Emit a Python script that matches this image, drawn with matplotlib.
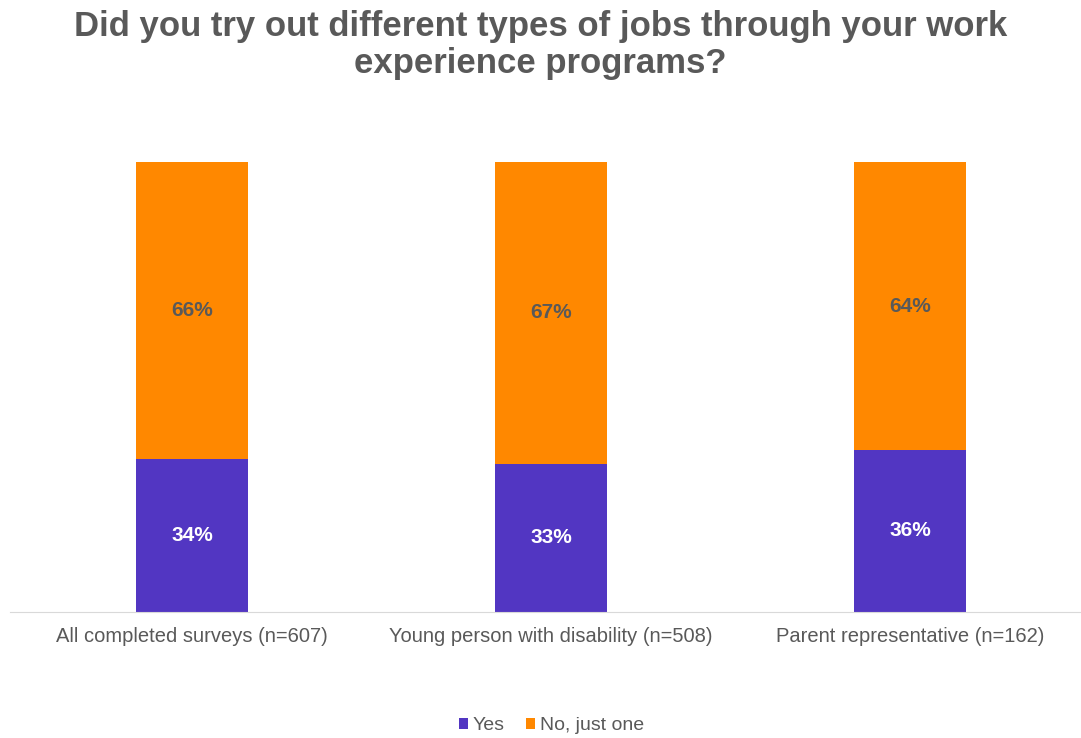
import matplotlib
matplotlib.use("Agg")
import matplotlib.pyplot as plt

categories = ["All completed surveys (n=607)", "Young person with disability (n=508)", "Parent representative (n=162)"]
yes_vals = [34, 33, 36]
no_vals = [66, 67, 64]
series_names = ["Yes", "No, just one"]

purple = "#5236C2"
orange = "#FF8800"
gray = "#595959"

plt.rcParams['font.family'] = ['Liberation Sans', 'DejaVu Sans']

fig = plt.figure(figsize=(10.81, 7.38), dpi=100)
ax = fig.add_axes([0.0, (738 - 612) / 738, 1.0, 450 / 738])

x = list(range(len(categories)))
w = 0.31
b1 = ax.bar(x, yes_vals, w, color=purple, label=series_names[0], zorder=2)
b2 = ax.bar(x, no_vals, w, bottom=yes_vals, color=orange, label=series_names[1], zorder=2)

for i in x:
    ax.text(i, yes_vals[i] / 2, f"{yes_vals[i]}%", ha="center", va="center",
            color="white", fontsize=15, fontweight="bold")
    ax.text(i, yes_vals[i] + no_vals[i] / 2, f"{no_vals[i]}%", ha="center", va="center",
            color=gray, fontsize=15, fontweight="bold")

xl = -0.535
ax.set_xlim(xl, xl + 1081 / 359)
ax.set_ylim(0, 100)
for s in ["top", "right", "left"]:
    ax.spines[s].set_visible(False)
ax.spines["bottom"].set_color("#D9D9D9")
ax.spines["bottom"].set_bounds(xl + 10 / 359, xl + 1081 / 359)
ax.set_yticks([])
ax.set_xticks(x)
ax.set_xticklabels(categories, fontsize=14.5, color=gray)
ax.tick_params(axis="x", length=0, pad=11)

fig.text(0.5, 1 - 45 / 738, "Did you try out different types of jobs through your work\nexperience programs?",
         ha="center", va="center", fontsize=25, fontweight="bold", color=gray, linespacing=1.12)

fig.legend(handles=[b1, b2], labels=series_names, loc="center", bbox_to_anchor=(0.51, 1 - 726 / 738),
           ncol=2, frameon=False, fontsize=14, handlelength=0.45, handleheight=0.45,
           handletextpad=0.25, columnspacing=1.1, labelcolor=gray)

fig.savefig("out.png", dpi=100)
